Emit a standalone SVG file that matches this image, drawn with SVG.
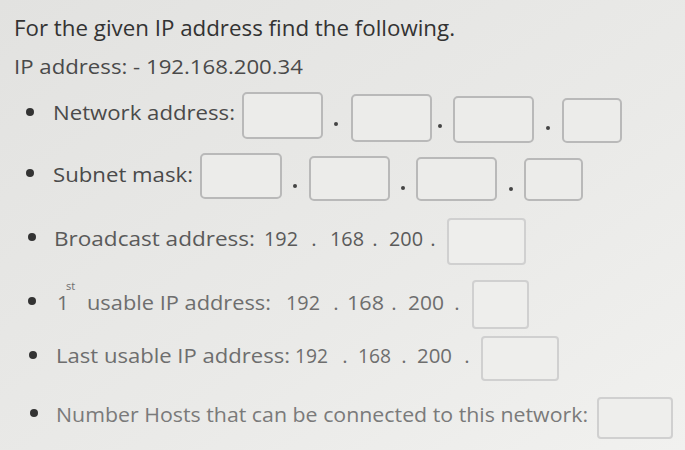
<svg xmlns="http://www.w3.org/2000/svg" width="685" height="450" viewBox="0 0 685 450">
<defs>
<linearGradient id="bg" x1="0" y1="0" x2="1" y2="1">
<stop offset="0" stop-color="#e2e2e0"/>
<stop offset="0.6" stop-color="#eaeae8"/>
<stop offset="1" stop-color="#f1f1ef"/>
</linearGradient>
</defs>
<style>
text{font-family:"Open Sans","Noto Sans","DejaVu Sans",sans-serif;}
.t1{font-size:21px;fill:#333333;}
.t2{font-size:20.5px;fill:#4a4a4a;}
.t3{font-size:20.5px;fill:#5a5a5a;}
.t4{font-size:20.5px;fill:#6e6e6e;}
.t5{font-size:20.5px;fill:#7a7a7a;}
.c{text-anchor:middle;}
.box{fill:#ececea;stroke:#b9b9b9;stroke-width:2;}
.boxl{fill:#eeeeec;stroke:#d0d0d0;stroke-width:2;}
.bul{fill:#333;}
.dot{fill:#444;}
</style>
<rect x="0" y="0" width="685" height="450" fill="url(#bg)"/>
<g id="title">
<text class="t1" x="14" y="36" textLength="441" lengthAdjust="spacingAndGlyphs">For the given IP address find the following.</text>
<text class="t2" x="14" y="74" textLength="289" lengthAdjust="spacingAndGlyphs">IP address: - 192.168.200.34</text>
</g>
<g id="network">
<circle class="bul" cx="30" cy="112" r="4"/>
<text class="t2" x="53" y="120" textLength="182" lengthAdjust="spacingAndGlyphs">Network address:</text>
<rect class="box" x="243" y="93" width="79" height="45" rx="4"/>
<circle class="dot" cx="336" cy="124" r="2"/>
<rect class="box" x="352" y="95" width="79" height="46" rx="4"/>
<circle class="dot" cx="440" cy="126" r="2"/>
<rect class="box" x="454" y="97" width="79" height="45" rx="4"/>
<circle class="dot" cx="548" cy="128" r="2"/>
<rect class="box" x="563" y="99" width="58" height="43" rx="4"/>
</g>
<g id="subnet">
<circle class="bul" cx="30" cy="173" r="4"/>
<text class="t2" x="53" y="182" textLength="140" lengthAdjust="spacingAndGlyphs">Subnet mask:</text>
<rect class="box" x="201" y="154" width="80" height="44" rx="4"/>
<circle class="dot" cx="295" cy="186" r="2"/>
<rect class="box" x="310" y="157" width="79" height="43" rx="4"/>
<circle class="dot" cx="403" cy="188" r="2"/>
<rect class="box" x="417" y="158" width="79" height="42" rx="4"/>
<circle class="dot" cx="511" cy="189" r="2"/>
<rect class="box" x="525" y="159" width="57" height="41" rx="4"/>
</g>
<g id="broadcast">
<circle class="bul" cx="32" cy="237" r="4"/>
<text class="t3" x="54" y="246" textLength="201" lengthAdjust="spacingAndGlyphs">Broadcast address:</text>
<text class="t3" x="264" y="246" textLength="34" lengthAdjust="spacingAndGlyphs">192</text>
<text class="t3 c" x="314" y="246">.</text>
<text class="t3" x="330" y="246" textLength="34" lengthAdjust="spacingAndGlyphs">168</text>
<text class="t3 c" x="375" y="246">.</text>
<text class="t3" x="389" y="246" textLength="34" lengthAdjust="spacingAndGlyphs">200</text>
<text class="t3 c" x="433" y="246">.</text>
<rect class="boxl" x="448" y="219" width="77" height="45" rx="3"/>
</g>
<g id="first">
<circle class="bul" cx="32" cy="301" r="4"/>
<text class="t4" x="57" y="310">1</text>
<text class="t4" x="66" y="290" style="font-size:11px">st</text>
<text class="t4" x="87" y="310" textLength="184" lengthAdjust="spacingAndGlyphs">usable IP address:</text>
<text class="t4" x="286" y="310" textLength="34" lengthAdjust="spacingAndGlyphs">192</text>
<text class="t4 c" x="336" y="310">.</text>
<text class="t4" x="347" y="310" textLength="37" lengthAdjust="spacingAndGlyphs">168</text>
<text class="t4 c" x="394" y="310">.</text>
<text class="t4" x="408" y="310" textLength="36" lengthAdjust="spacingAndGlyphs">200</text>
<text class="t4 c" x="457" y="310">.</text>
<rect class="boxl" x="473" y="281" width="55" height="47" rx="3"/>
</g>
<g id="last">
<circle class="bul" cx="33" cy="355" r="4"/>
<text class="t4" x="56" y="363" textLength="234" lengthAdjust="spacingAndGlyphs">Last usable IP address:</text>
<text class="t4" x="295" y="363" textLength="33" lengthAdjust="spacingAndGlyphs">192</text>
<text class="t4 c" x="345" y="363">.</text>
<text class="t4" x="358" y="363" textLength="33" lengthAdjust="spacingAndGlyphs">168</text>
<text class="t4 c" x="404" y="363">.</text>
<text class="t4" x="417" y="363" textLength="35" lengthAdjust="spacingAndGlyphs">200</text>
<text class="t4 c" x="467" y="363">.</text>
<rect class="boxl" x="482" y="337" width="76" height="43" rx="3"/>
</g>
<g id="hosts">
<circle class="bul" cx="34" cy="413" r="4"/>
<text class="t5" x="56" y="422" textLength="532" lengthAdjust="spacingAndGlyphs">Number Hosts that can be connected to this network:</text>
<rect class="boxl" x="598" y="398" width="74" height="40" rx="3"/>
</g>
</svg>
